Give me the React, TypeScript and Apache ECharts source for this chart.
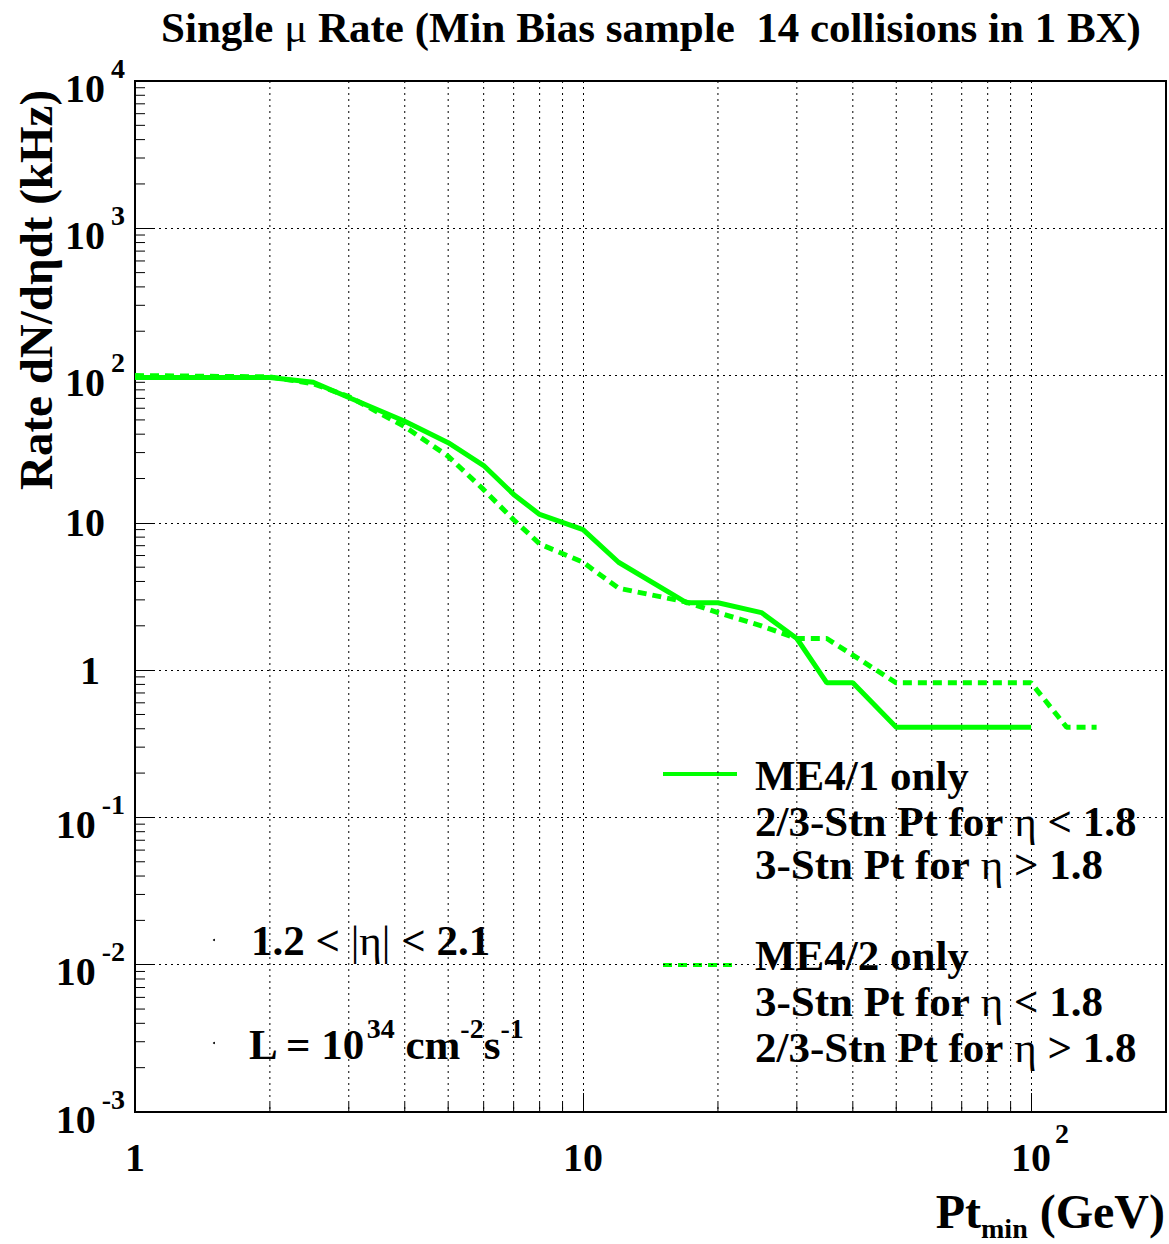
import React, { useEffect, useRef } from 'react';
import * as echarts from 'echarts';

// Threshold Pt (GeV) and rate (kHz) for the two configurations
const ptME41 = [1, 2, 2.5, 3, 4, 5, 6, 7, 8, 10, 12, 17, 20, 25, 30, 35, 40, 50, 100];
const rateME41 = [97, 97, 90, 71, 49, 35, 24.5, 15.6, 11.4, 9.0, 5.4, 2.87, 2.87, 2.46, 1.64, 0.82, 0.82, 0.41, 0.41];
const ptME42 = [1, 2, 2.5, 3, 4, 5, 6, 7, 8, 10, 12, 17, 20, 25, 30, 35, 50, 100, 120, 140];
const rateME42 = [100, 98, 88, 72, 45, 28.3, 16.8, 10.5, 7.2, 5.4, 3.6, 2.9, 2.46, 2.0, 1.64, 1.64, 0.82, 0.82, 0.41, 0.41];

// Axis ranges
const xRange = [1, 200];
const yRange = [0.001, 10000];

const FONT = '"Liberation Serif", "Times New Roman", serif';
const GREEN = '#00ff00';

// Minor tick positions (2..9 within each decade)
function minorTicks(lo: number, hi: number): number[] {
  const out: number[] = [];
  for (let d = lo; d < hi; d *= 10) {
    for (let m = 2; m <= 9; m++) {
      const v = Math.round(m * d * 1e6) / 1e6;
      if (v < hi) out.push(v);
    }
  }
  return out;
}

const xMinor = minorTicks(1, 100);
const yMinor = minorTicks(0.001, 10000);

function decadeExp(v: number): number | null {
  const e = Math.log10(v);
  const r = Math.round(e);
  return Math.abs(e - r) < 1e-6 ? r : null;
}

const labelBase = { fontFamily: FONT, fontWeight: 'bold' as const, color: '#000' };

const App: React.FC = () => {
  const ref = useRef<HTMLDivElement>(null);

  useEffect(() => {
    if (!ref.current) return;
    const chart = echarts.init(ref.current, undefined, { renderer: 'svg' });

    const b = (s: number) => ({ fontFamily: FONT, fontWeight: 'bold', fontSize: s, fill: '#000' });
    const n = (s: number) => ({ fontFamily: FONT, fontWeight: 'normal', fontSize: s, fill: '#000' });

    const legendRich = {
      b: { ...b(43), lineHeight: 46 },
      e: { ...n(43), lineHeight: 46 },
    };

    const textLine = (x: number, y: number, text: string, rich: any, align = 'left') => ({
      type: 'text',
      x,
      y,
      silent: true,
      style: { text, rich, align, verticalAlign: 'middle' },
    });

    const option: any = {
      animation: false,
      backgroundColor: '#fff',
      grid: {
        left: 135,
        top: 81,
        width: 1031,
        height: 1031,
        show: true,
        borderColor: '#000',
        borderWidth: 2,
        backgroundColor: 'transparent',
      },
      xAxis: {
        type: 'log',
        logBase: 10,
        min: xRange[0],
        max: xRange[1],
        axisLine: { show: false },
        axisTick: { show: true, inside: true, length: 19, lineStyle: { color: '#000', width: 1 } },
        splitLine: { show: true, lineStyle: { color: '#000', width: 1, type: [2, 4] } },
        axisLabel: {
          margin: 7,
          formatter: (v: number) => {
            const e = decadeExp(v);
            if (e === null) return '';
            if (e === 0) return '{p|1}';
            if (e === 1) return '{p|10}';
            return `{bx|10}{s|${e}}`;
          },
          rich: {
            p: { ...labelBase, fontSize: 40, lineHeight: 58, padding: [18, 0, 0, 0] },
            bx: { ...labelBase, fontSize: 40, lineHeight: 40, verticalAlign: 'bottom', padding: [0, 0, 0, 18] },
            s: { ...labelBase, fontSize: 28, lineHeight: 58, verticalAlign: 'top', padding: [0, 0, 30, 4] },
          },
        },
      },
      yAxis: {
        type: 'log',
        logBase: 10,
        min: yRange[0],
        max: yRange[1],
        axisLine: { show: false },
        axisTick: { show: true, inside: true, length: 19, lineStyle: { color: '#000', width: 1 } },
        splitLine: { show: true, lineStyle: { color: '#000', width: 1, type: [2, 4] } },
        axisLabel: {
          margin: 10,
          formatter: (v: number) => {
            const e = decadeExp(v);
            if (e === null) return '';
            if (e === 0) return '{one|1}';
            if (e === 1) return '{ten|10}';
            return `{bx|10}{s|${e}}`;
          },
          rich: {
            one: { ...labelBase, fontSize: 40, lineHeight: 40, padding: [0, 25, 0, 0] },
            ten: { ...labelBase, fontSize: 40, lineHeight: 40, padding: [0, 20, 0, 0] },
            bx: { ...labelBase, fontSize: 40, lineHeight: 40, verticalAlign: 'bottom' },
            s: { ...labelBase, fontSize: 28, lineHeight: 54, verticalAlign: 'top', padding: [0, 0, 26, 6] },
          },
        },
      },
      series: [
        {
          name: 'xMinor',
          type: 'custom',
          silent: true,
          z: 1,
          data: xMinor.map((v) => [v, 1]),
          renderItem: (params: any, api: any) => {
            const cs = params.coordSys;
            const p = api.coord([api.value(0), api.value(1)]);
            const bottom = cs.y + cs.height;
            return {
              type: 'group',
              children: [
                {
                  type: 'line',
                  shape: { x1: p[0], y1: cs.y, x2: p[0], y2: bottom },
                  style: { stroke: '#000', lineWidth: 1, lineDash: [2, 4] },
                },
                {
                  type: 'line',
                  shape: { x1: p[0], y1: bottom, x2: p[0], y2: bottom - 9 },
                  style: { stroke: '#000', lineWidth: 1 },
                },
              ],
            };
          },
        },
        {
          name: 'yMinor',
          type: 'custom',
          silent: true,
          z: 1,
          data: yMinor.map((v) => [1, v]),
          renderItem: (params: any, api: any) => {
            const cs = params.coordSys;
            const p = api.coord([api.value(0), api.value(1)]);
            return {
              type: 'line',
              shape: { x1: cs.x, y1: p[1], x2: cs.x + 10, y2: p[1] },
              style: { stroke: '#000', lineWidth: 1 },
            };
          },
        },
        {
          name: 'ME4/2 only',
          type: 'line',
          data: ptME42.map((x, i) => [x, rateME42[i]]),
          showSymbol: false,
          symbol: 'none',
          z: 3,
          lineStyle: { color: GREEN, width: 5, type: [9, 6] },
        },
        {
          name: 'ME4/1 only',
          type: 'line',
          data: ptME41.map((x, i) => [x, rateME41[i]]),
          showSymbol: false,
          symbol: 'none',
          z: 4,
          lineStyle: { color: GREEN, width: 5, type: 'solid' },
        },
      ],
      graphic: [
        // Title
        textLine(651, 27, '{b|Single }{m|μ}{b| Rate (Min Bias sample  14 collisions in 1 BX)}', {
          b: b(43),
          m: n(43),
        }, 'center'),
        // Y-axis title
        {
          type: 'text',
          x: 36,
          y: 290,
          rotation: Math.PI / 2,
          silent: true,
          style: {
            text: 'Rate dN/dηdt (kHz)',
            fontFamily: FONT,
            fontWeight: 'bold',
            fontSize: 47,
            fill: '#000',
            align: 'center',
            verticalAlign: 'middle',
          },
        },
        // X-axis title
        textLine(1165, 1215, '{a|Pt}{s|min}{a| (GeV)}', {
          a: { ...b(48), lineHeight: 48, verticalAlign: 'top' },
          s: { ...b(28), lineHeight: 55, verticalAlign: 'bottom', padding: [27, 0, 0, 0] },
        }, 'right'),
        // Legend
        {
          type: 'line',
          silent: true,
          shape: { x1: 663, y1: 774, x2: 737, y2: 774 },
          style: { stroke: GREEN, lineWidth: 4 },
        },
        {
          type: 'line',
          silent: true,
          shape: { x1: 663, y1: 965, x2: 737, y2: 965 },
          style: { stroke: GREEN, lineWidth: 4, lineDash: [9, 6] },
        },
        textLine(755, 775, '{b|ME4/1 only}', legendRich),
        textLine(755, 821, '{b|2/3-Stn Pt for }{e|η}{b| < 1.8}', legendRich),
        textLine(755, 864, '{b|3-Stn Pt for }{e|η}{b| > 1.8}', legendRich),
        textLine(755, 955, '{b|ME4/2 only}', legendRich),
        textLine(755, 1001, '{b|3-Stn Pt for }{e|η}{b| < 1.8}', legendRich),
        textLine(755, 1047, '{b|2/3-Stn Pt for }{e|η}{b| > 1.8}', legendRich),
        // Annotations
        textLine(251, 940, '{b|1.2 < }{e||η|}{b| < 2.1}', legendRich),
        textLine(249, 1040, '{b|L = 10}{s|34}{b| cm}{s|-2}{b|s}{s|-1}', {
          b: { ...b(43), lineHeight: 42, verticalAlign: 'bottom' },
          s: { ...b(28), lineHeight: 52, verticalAlign: 'top', padding: [0, 0, 24, 0] },
        }),
        { type: 'circle', silent: true, shape: { cx: 214, cy: 940, r: 1 }, style: { fill: '#000' } },
        { type: 'circle', silent: true, shape: { cx: 214, cy: 1043, r: 1 }, style: { fill: '#000' } },
      ],
    };

    chart.setOption(option);
    return () => chart.dispose();
  }, []);

  return (
    <div
      ref={ref}
      style={{ position: 'absolute', left: 0, top: 0, width: 1169, height: 1244, background: '#fff' }}
    />
  );
};

export default App;
